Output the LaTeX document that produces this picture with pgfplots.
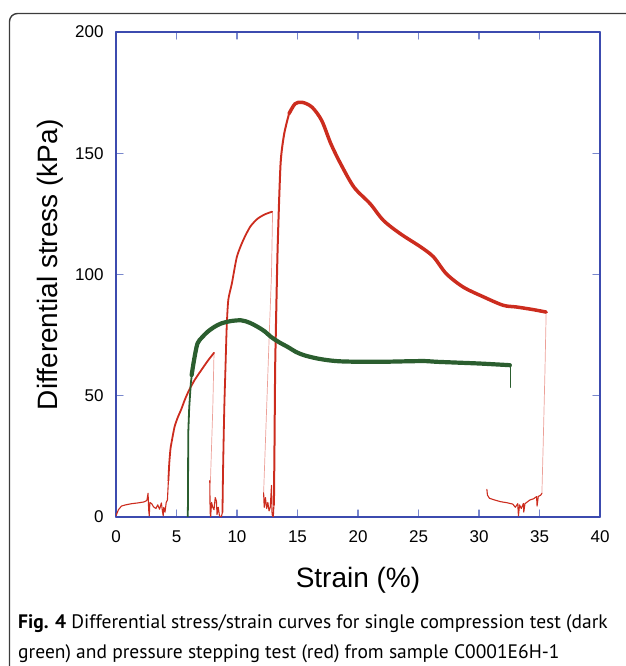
\documentclass[border=0pt]{standalone}
\usepackage{fontspec}
\setmainfont{Liberation Sans}
\newfontfamily\capfont{PT Sans}
\usepackage{pgfplots}
\pgfplotsset{compat=1.18}
\definecolor{axblue}{RGB}{60,75,175}
\definecolor{tickblue}{RGB}{120,135,205}
\definecolor{cred}{RGB}{204,44,30}
\definecolor{lred}{RGB}{236,160,152}
\definecolor{cgreen}{RGB}{43,94,47}
\definecolor{framec}{RGB}{60,60,60}
\begin{document}
\begin{tikzpicture}[x=1pt,y=1pt]
\useasboundingbox (0,0) rectangle (625,666);
% frame
\draw[framec,line width=1.4pt] (9.5,-5) -- (9.5,644.5) arc[start angle=180,end angle=90,radius=8] -- (640,652.5);
\begin{axis}[
  at={(116pt,149pt)}, anchor=south west,
  scale only axis, width=484pt, height=485pt,
  xmin=0, xmax=40, ymin=0, ymax=200,
  xtick={0,5,...,40}, ytick={0,50,...,200},
  tick align=inside, major tick length=7pt,
  axis line style={axblue, line width=1.1pt},
  every tick/.style={tickblue, line width=1.1pt},
  /pgf/number format/assume math mode=true,
  tick label style={font=\fontsize{17}{17}\selectfont, black},
  yticklabel style={xshift=-9pt},
  xticklabel style={yshift=-10pt},
  xlabel={Strain (\%)}, ylabel={Differential stress (kPa)},
  label style={font=\fontsize{28}{28}\selectfont},
  xlabel style={at={(axis description cs:0.5,-0.13)}, anchor=center},
  ylabel style={at={(axis description cs:-0.136,0.52)}, anchor=center},
  line join=round, line cap=round,
]
% light connecting lines (pressure steps)
\addplot[lred, line width=0.7pt] coordinates {(8.1,67.7) (8.0,45) (7.8,14)};
\addplot[lred, line width=0.7pt] coordinates {(12.94,125.7) (12.85,100) (12.7,80) (12.2,10)};
\addplot[lred, line width=0.7pt] coordinates {(35.55,84.5) (35.45,60) (35.3,29) (35.2,10)};
% red segment 1
\addplot[cred, line width=1.1pt] coordinates {
(0,0.5) (0.2,3) (0.45,4.5) (0.8,5) (1.3,5.5) (1.8,5.8) (2.3,6.2) (2.55,6.8) (2.65,9.8) (2.7,3) (2.75,0.5) (2.8,6) (2.95,5.5) (3.1,4.2) (3.3,3.5) (3.45,5) (3.6,3.2) (3.75,5.8) (3.85,2) (3.9,0.5) (3.95,4) (4.05,2) (4.15,6) (4.25,7) (4.33,15)};
\addplot[cred, line width=1.8pt, smooth, tension=0.4] coordinates {
(4.33,15) (4.4,22) (4.5,28) (4.6,31) (4.84,37.2) (5.1,41) (5.4,44.5) (5.7,48.5) (6.04,52.3) (6.5,56.5) (7.04,60.5) (7.6,64.5) (8.1,67.7)};
% red segment 2
\addplot[cred, line width=1.1pt] coordinates {
(7.75,15) (7.78,2) (7.82,0) (7.9,6) (8.0,4) (8.1,3) (8.2,8) (8.3,6.5) (8.35,1) (8.45,4) (8.55,0.5) (8.7,0) (8.8,2)};
\addplot[cred, line width=1.8pt, smooth, tension=0.4] coordinates {
(8.8,2) (8.85,20) (8.95,45) (9.05,62) (9.15,78.5) (9.28,89.5) (9.58,96.4) (9.99,107.3) (10.5,114) (11.09,119.7) (11.7,123) (12.3,124.8) (12.9,125.9)};
% red segment 3
\addplot[cred, line width=1.1pt] coordinates {
(12.2,10) (12.25,4) (12.35,8) (12.45,3.5) (12.55,6) (12.65,2.5) (12.75,4) (12.85,13) (12.9,1) (13.0,0) (13.05,5)};
\addplot[cred, line width=2pt, smooth, tension=0.4] coordinates {
(13.05,5) (13.1,30) (13.15,60) (13.2,74) (13.36,111.3) (13.6,145.6) (13.9,158) (14.3,166.3)};
\addplot[cred, line width=3.5pt, smooth, tension=0.5] coordinates {
(14.3,166.3) (14.8,170.4) (15.4,171) (16.2,169) (17.0,163.5) (17.75,154) (18.57,145.6) (19.67,136) (21.0,129.2) (22.1,122.3) (23.5,116.8) (25.2,111.3) (26.25,107.2) (27.3,100.3) (28.7,94.8) (30.4,90.7) (32.0,87.3) (33.1,86.6) (34.5,85.5) (35.55,84.5)};
% red segment 4
\addplot[cred, line width=1.1pt] coordinates {
(30.65,11.4) (30.7,9) (30.87,7.7) (31.3,7) (31.8,6.3) (32.3,5.9) (32.8,5.3) (33.0,4) (33.2,5.5) (33.26,0.5) (33.35,5) (33.5,3.5) (33.67,5.6) (33.7,2) (33.8,5.5) (34.2,7) (34.5,7.5) (34.76,8.4) (34.8,4.5) (34.9,8.5) (35.1,9) (35.2,9.8)};
% green single compression
\addplot[cgreen, line width=1.8pt] coordinates {
(5.93,0) (5.95,7) (5.97,34.5) (6.05,45) (6.18,55) (6.3,60)};
\addplot[cgreen, line width=4.2pt, smooth, tension=0.5] coordinates {
(6.25,58.5) (6.45,64.7) (6.73,71.5) (7.1,74) (7.55,76.3) (8.1,78.3) (8.69,79.8) (9.5,80.8) (10.34,81.1) (11.0,80.2) (11.71,78.4) (12.3,76.5) (12.8,74.3) (13.5,72) (14.2,70.1) (14.9,68) (15.55,66.7) (16.5,65.5) (17.45,64.7) (18.5,64.2) (20.2,64) (22,64) (24,64.2) (25.5,64.3) (26.5,64) (28,63.7) (30,63.3) (31.5,62.9) (32.55,62.6)};
\addplot[cgreen, line width=1pt] coordinates {(32.6,62.6) (32.6,53.5)};
\end{axis}
\node[anchor=base west, inner sep=0pt, font=\capfont\fontsize{19.5}{19.5}\selectfont] at (18,37) {\textbf{Fig. 4} Differential stress/strain curves for single compression test (dark};
\node[anchor=base west, inner sep=0pt, font=\capfont\fontsize{19.5}{19.5}\selectfont] at (18,8) {green) and pressure stepping test (red) from sample C0001E6H-1};
\end{tikzpicture}
\end{document}
